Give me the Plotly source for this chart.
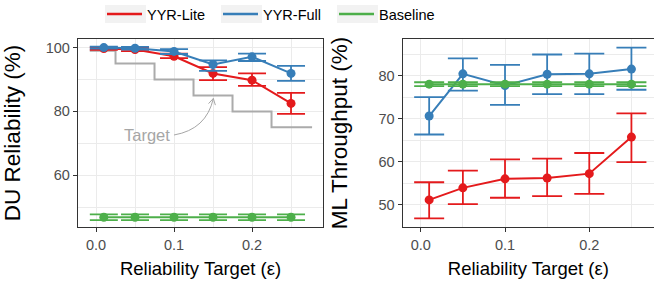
import plotly.graph_objects as go

# ---------------- data ----------------
eps = [0.01, 0.05, 0.10, 0.15, 0.20, 0.25]

du_lite = [99.7, 99.4, 97.3, 91.9, 89.8, 82.5]
du_lite_lo = [99.3, 98.9, 96.7, 89.8, 88.0, 79.2]
du_lite_hi = [100.1, 99.9, 98.1, 93.9, 91.9, 85.8]

du_full = [100.0, 99.8, 98.8, 94.7, 97.1, 91.9]
du_full_lo = [99.7, 99.4, 98.0, 92.7, 95.8, 89.6]
du_full_hi = [100.3, 100.2, 99.5, 96.0, 98.1, 94.3]

du_base = [46.8, 46.8, 46.8, 46.8, 46.8, 46.8]
du_base_lo = [45.9, 45.9, 45.9, 45.9, 45.9, 45.9]
du_base_hi = [47.7, 47.7, 47.7, 47.7, 47.7, 47.7]

ml_lite = [51.1, 53.9, 56.0, 56.2, 57.2, 65.7]
ml_lite_lo = [46.8, 50.1, 51.6, 52.0, 52.5, 59.9]
ml_lite_hi = [55.2, 57.9, 60.5, 60.7, 62.0, 71.2]

ml_full = [70.6, 80.4, 77.7, 80.3, 80.4, 81.5]
ml_full_lo = [66.3, 76.5, 73.2, 75.7, 75.7, 76.7]
ml_full_hi = [75.0, 84.0, 82.5, 84.9, 85.1, 86.5]

ml_base = [78.0, 78.0, 78.0, 78.0, 78.0, 78.0]
ml_base_lo = [77.55, 77.55, 77.55, 77.55, 77.55, 77.55]
ml_base_hi = [78.45, 78.45, 78.45, 78.45, 78.45, 78.45]

target_x = [-0.008, 0.025, 0.075, 0.125, 0.175, 0.225, 0.277]
target_y = [99, 95, 90, 85, 80, 75, 75]

series_names = ["YYR-Lite", "YYR-Full", "Baseline"]
colors = ["#E41A1C", "#377EB8", "#4DAF4A"]

x_ticks = [0.0, 0.1, 0.2]
x_ticktext = ["0.0", "0.1", "0.2"]
du_ticks = [60, 80, 100]
ml_ticks = [50, 60, 70, 80]

FONT = "Liberation Sans, Arial, sans-serif"
TICKC = "#4D4D4D"
LINEC = "#333333"
GRID = "#EBEBEB"

fig = go.Figure()


def add_series(x, y, lo, hi, color, xa, ya, capw):
    fig.add_trace(go.Scatter(
        x=x, y=y, mode="lines+markers", xaxis=xa, yaxis=ya,
        line=dict(color=color, width=2), marker=dict(color=color, size=9),
        error_y=dict(type="data", symmetric=False,
                     array=[h - v for h, v in zip(hi, y)],
                     arrayminus=[v - l for v, l in zip(y, lo)],
                     color=color, thickness=1.8, width=capw),
        showlegend=False, hoverinfo="skip"))


# target step line
fig.add_trace(go.Scatter(x=target_x, y=target_y, mode="lines", line_shape="hv",
                         line=dict(color="#ABABAB", width=2), xaxis="x", yaxis="y",
                         showlegend=False, hoverinfo="skip"))

left = [(du_lite, du_lite_lo, du_lite_hi), (du_full, du_full_lo, du_full_hi),
        (du_base, du_base_lo, du_base_hi)]
right = [(ml_lite, ml_lite_lo, ml_lite_hi), (ml_full, ml_full_lo, ml_full_hi),
         (ml_base, ml_base_lo, ml_base_hi)]
for (y, lo, hi), c in zip(left, colors):
    add_series(eps, y, lo, hi, c, "x", "y", 14)
for (y, lo, hi), c in zip(right, colors):
    add_series(eps, y, lo, hi, c, "x2", "y2", 15)

# legend entries (line only)
for n, c in zip(series_names, colors):
    fig.add_trace(go.Scatter(x=[None], y=[None], mode="lines", name=n,
                             line=dict(color=c, width=2.5), showlegend=True))

W, H = 654, 289
ydom = [62 / H, 250 / H]

axis_common = dict(
    showgrid=True, gridcolor=GRID, gridwidth=1.2, zeroline=False,
    showline=True, linecolor=LINEC, linewidth=1.3,
    ticks="outside", ticklen=4, tickwidth=1.1, tickcolor=LINEC,
    tickfont=dict(family=FONT, size=14.5, color=TICKC),
)

xtitle = dict(text="Reliability Target (ε)", font=dict(family=FONT, size=18.5, color="black"),
              standoff=10)

fig.update_layout(
    width=W, height=H, margin=dict(l=0, r=0, t=0, b=0, autoexpand=False),
    paper_bgcolor="white", plot_bgcolor="white",
    font=dict(family=FONT),
    xaxis=dict(domain=[78 / W, 323 / W], range=[-0.0231, 0.291], mirror=True,
               tickvals=x_ticks, ticktext=x_ticktext, title=xtitle,
               minor=dict(dtick=0.05, tick0=0, showgrid=True, gridcolor=GRID, gridwidth=0.6, ticks=""),
               anchor="y", **axis_common),
    yaxis=dict(domain=ydom, range=[43.75, 102.7], mirror=True, tickvals=du_ticks,
               title=dict(text="DU Reliability (%)", font=dict(family=FONT, size=22.5, color="black"),
                          standoff=26),
               minor=dict(dtick=10, tick0=0, showgrid=True, gridcolor=GRID, gridwidth=0.6, ticks=""),
               anchor="x", **axis_common),
    xaxis2=dict(domain=[402.7 / W, 1.0], range=[-0.0214, 0.2768], mirror=True,
                tickvals=x_ticks, ticktext=x_ticktext, title=xtitle,
                minor=dict(dtick=0.05, tick0=0, showgrid=True, gridcolor=GRID, gridwidth=0.6, ticks=""),
                anchor="y2", **axis_common),
    yaxis2=dict(domain=ydom, range=[44.8, 88.5], mirror=False, tickvals=ml_ticks,
                title=dict(text="ML Throughput (%)", font=dict(family=FONT, size=22.5, color="black"),
                           standoff=24),
                minor=dict(dtick=5, tick0=0, showgrid=True, gridcolor=GRID, gridwidth=0.6, ticks=""),
                anchor="x2", **axis_common),
    legend=dict(orientation="h", x=102 / W, xanchor="left", y=1 + 2 / H, yanchor="top",
                font=dict(family=FONT, size=14.5, color="black"),
                itemwidth=35, entrywidth=66, entrywidthmode="pixels",
                bgcolor="rgba(0,0,0,0)", borderwidth=0, tracegroupgap=0),
    showlegend=True,
)

# grey legend key backgrounds
for x0, x1 in [(105, 146), (221, 262), (337, 378)]:
    fig.add_shape(type="rect", xref="paper", yref="paper", x0=x0 / W, x1=x1 / W,
                  y0=1 - 23 / H, y1=1 - 5 / H, fillcolor="#F2F2F2", line=dict(width=0),
                  layer="below")

# "Target" annotation with curved arrow
fig.add_annotation(x=0.1, y=72.6, xref="x", yref="y", text="Target", showarrow=False,
                   xanchor="right", yanchor="middle", xshift=-2,
                   font=dict(family=FONT, size=16.5, color="#A6A6A6"))
fig.add_shape(type="path", xref="x", yref="y",
              path="M 0.1,72.6 Q 0.1415,74.36 0.1504,84.06",
              line=dict(color="#A6A6A6", width=1))
fig.add_shape(type="path", xref="x", yref="y",
              path="M 0.1443,82.45 L 0.1504,84.06 L 0.1530,81.97",
              line=dict(color="#A6A6A6", width=1))

fig.write_html("out.html", config={"displayModeBar": False},
               post_script="document.body.style.margin='0px';")
